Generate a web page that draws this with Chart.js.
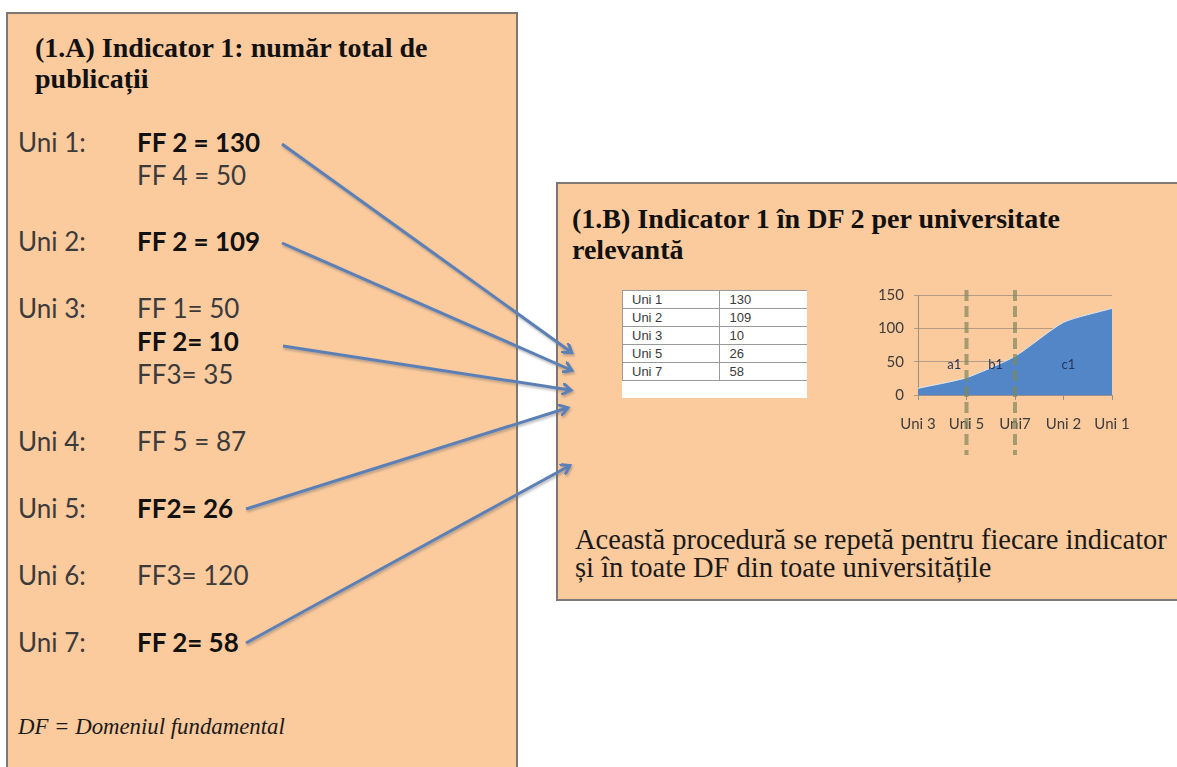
<!DOCTYPE html>
<html>
<head>
<meta charset="utf-8">
<script src="https://cdn.jsdelivr.net/npm/chart.js@4/dist/chart.umd.min.js"></script>
<style>
  html, body { margin: 0; padding: 0; background: #fff; }
  body { width: 1177px; height: 767px; position: relative; overflow: hidden; }
  .box { position: absolute; background: #fbca9d; border: 2px solid #7d7873; box-sizing: border-box; }
  #boxA { left: 6px; top: 12px; width: 512px; height: 800px; }
  #boxB { left: 556px; top: 182px; width: 640px; height: 419px; }
  .title { position: absolute; font-family: "Liberation Serif", serif; font-weight: bold; font-size: 28px; line-height: 31px; color: #111; white-space: nowrap; }
  .serif { position: absolute; font-family: "Liberation Serif", serif; font-size: 28.5px; line-height: 28px; color: #1a1a1a; white-space: nowrap; }
  .lbl { position: absolute; font-family: Lato, "Open Sans", sans-serif; font-size: 26px; color: #3b3b3b; transform: translateY(-50%); white-space: nowrap; }
  .lbl.b { font-weight: bold; color: #111; }
  #tbl { position: absolute; left: 622px; top: 290px; width: 185px; height: 108px; background: #fff; }
  #tbl table { border-collapse: collapse; font-family: "Liberation Sans", Arial, sans-serif; font-size: 13px; color: #3a3a3a; }
  #tbl td { border: 1px solid #9a9a9a; height: 17px; padding: 0 0 0 9px; line-height: 17px; }
  #tbl td:first-child { width: 88px; }
  #tbl td:last-child { width: 78px; border-right: none; }
  #chartWrap { position: absolute; left: 850px; top: 285px; width: 280px; height: 175px; }
  svg { position: absolute; left: 0; top: 0; }
</style>
</head>
<body>
<div class="box" id="boxA"></div>
<div class="box" id="boxB"></div>

<div class="title" style="left:35px; top:32px;">(1.A) Indicator 1: număr total de<br>publicații</div>
<div class="title" style="left:572px; top:203px;">(1.B) Indicator 1 în DF 2 per universitate<br>relevantă</div>

<div id="leftList"></div>

<div class="serif" style="left:18px; top:713px; font-style:italic; font-size:22.8px;">DF = Domeniul fundamental</div>
<div class="serif" style="left:575px; top:526px;">Această procedură se repetă pentru fiecare indicator<br>și în toate DF din toate universitățile</div>

<div id="tbl"><table id="dataTable"></table></div>

<div id="chartWrap"><canvas id="areaChart" width="280" height="175"></canvas></div>

<svg width="1177" height="767">
  <defs>
    <marker id="head" markerWidth="12" markerHeight="12" refX="8" refY="6" orient="auto" markerUnits="userSpaceOnUse">
      <path d="M0,0 L9,6 L0,12" fill="none" stroke="#5b80b6" stroke-width="3"/>
    </marker>
    <filter id="sh" x="-10%" y="-10%" width="120%" height="120%">
      <feDropShadow dx="1" dy="2" stdDeviation="1.2" flood-color="#6b6b6b" flood-opacity="0.45"/>
    </filter>
  </defs>
  <g id="arrows" stroke="#5b80b6" stroke-width="3" fill="none" filter="url(#sh)"></g>
</svg>

<script>
// left list: university / field values
const uniNames = ["Uni 1:", "Uni 2:", "Uni 3:", "Uni 4:", "Uni 5:", "Uni 6:", "Uni 7:"];
const uniRowsY = [142, 241, 308, 441, 508, 575, 642];
const uniFields = [
  [["FF 2 = 130", true], ["FF 4 = 50", false]],
  [["FF 2 = 109", true]],
  [["FF 1= 50", false], ["FF 2= 10", true], ["FF3= 35", false]],
  [["FF 5 = 87", false]],
  [["FF2= 26", true]],
  [["FF3= 120", false]],
  [["FF 2= 58", true]]
];

// table (as listed) and chart (sorted ascending)
const tableUnis = ["Uni 1", "Uni 2", "Uni 3", "Uni 5", "Uni 7"];
const tableValues = [130, 109, 10, 26, 58];
const chartLabels = ["Uni 3", "Uni 5", "Uni7", "Uni 2", "Uni 1"];
const chartValues = [10, 26, 58, 109, 130];
const yTicks = [0, 50, 100, 150];
const segLabels = ["a1", "b1", "c1"];
const segPos = [0.75, 1.6, 3.1];
const segY = 45;
const cutIndexes = [1, 2];

// arrows from the bold FF 2 values to box B
const arrowLines = [
  [282, 144, 571, 352],
  [282, 243, 571, 370],
  [283, 346, 570, 390],
  [246, 509, 567, 408],
  [246, 643, 569, 466]
];

const list = document.getElementById("leftList");
uniNames.forEach((name, i) => {
  const d = document.createElement("div");
  d.className = "lbl";
  d.style.left = "18px";
  d.style.top = uniRowsY[i] + "px";
  d.textContent = name;
  list.appendChild(d);
  uniFields[i].forEach((f, j) => {
    const e = document.createElement("div");
    e.className = "lbl" + (f[1] ? " b" : "");
    e.style.left = "137px";
    e.style.top = (uniRowsY[i] + j * 33) + "px";
    e.textContent = f[0];
    list.appendChild(e);
  });
});

const table = document.getElementById("dataTable");
tableUnis.forEach((u, i) => {
  const tr = document.createElement("tr");
  tr.innerHTML = "<td>" + u + "</td><td>" + tableValues[i] + "</td>";
  table.appendChild(tr);
});

const arrows = document.getElementById("arrows");
arrowLines.forEach(a => {
  const l = document.createElementNS("http://www.w3.org/2000/svg", "line");
  l.setAttribute("x1", a[0]); l.setAttribute("y1", a[1]);
  l.setAttribute("x2", a[2]); l.setAttribute("y2", a[3]);
  l.setAttribute("marker-end", "url(#head)");
  arrows.appendChild(l);
});

// dashed cut lines + a1/b1/c1 labels
const cutPlugin = {
  id: "cuts",
  afterDraw(chart) {
    const ctx = chart.ctx;
    const x = chart.scales.x, y = chart.scales.y;
    ctx.save();
    ctx.strokeStyle = "rgba(125,135,95,0.7)";
    ctx.lineWidth = 4;
    ctx.setLineDash([11, 5]);
    cutIndexes.forEach(i => {
      const px = x.getPixelForValue(i);
      ctx.beginPath();
      ctx.moveTo(px, 5);
      ctx.lineTo(px, chart.height - 5);
      ctx.stroke();
    });
    ctx.setLineDash([]);
    ctx.fillStyle = "#24365c";
    ctx.font = "13px Lato, sans-serif";
    ctx.textAlign = "center";
    ctx.textBaseline = "middle";
    segLabels.forEach((s, i) => {
      const p0 = x.getPixelForValue(0), p1 = x.getPixelForValue(1);
      const px = p0 + segPos[i] * (p1 - p0);
      ctx.fillText(s, px, y.getPixelForValue(segY));
    });
    ctx.restore();
  }
};

new Chart(document.getElementById("areaChart"), {
  type: "line",
  data: {
    labels: chartLabels,
    datasets: [{
      data: chartValues,
      fill: "origin",
      backgroundColor: "#5286c6",
      borderColor: "#dfe6ef",
      borderWidth: 1,
      tension: 0.2,
      pointRadius: 0
    }]
  },
  options: {
    responsive: false,
    animation: false,
    layout: { padding: { top: 10, right: 18, left: 0, bottom: 0 } },
    plugins: { legend: { display: false }, tooltip: { enabled: false } },
    scales: {
      x: {
        offset: false,
        afterFit: s => { s.height = 65; s.paddingLeft = 0; s.paddingRight = 0; },
        grid: { drawOnChartArea: false, color: "#9a8f85", tickLength: 5 },
        border: { color: "#9a8f85" },
        ticks: { color: "#3d3d3d", font: { family: "Lato", size: 15 }, padding: 15, maxRotation: 0, autoSkip: false }
      },
      y: {
        min: 0, max: 150,
        afterBuildTicks: s => { s.ticks = yTicks.map(v => ({ value: v })); },
        afterFit: s => { s.width = 68; s.paddingTop = 0; s.paddingBottom = 0; },
        grid: { color: "#b39c86", tickLength: 4 },
        border: { color: "#9a8f85" },
        ticks: { color: "#3d3d3d", font: { family: "Lato", size: 15 }, padding: 10 }
      }
    }
  },
  plugins: [cutPlugin]
});
</script>
</body>
</html>
